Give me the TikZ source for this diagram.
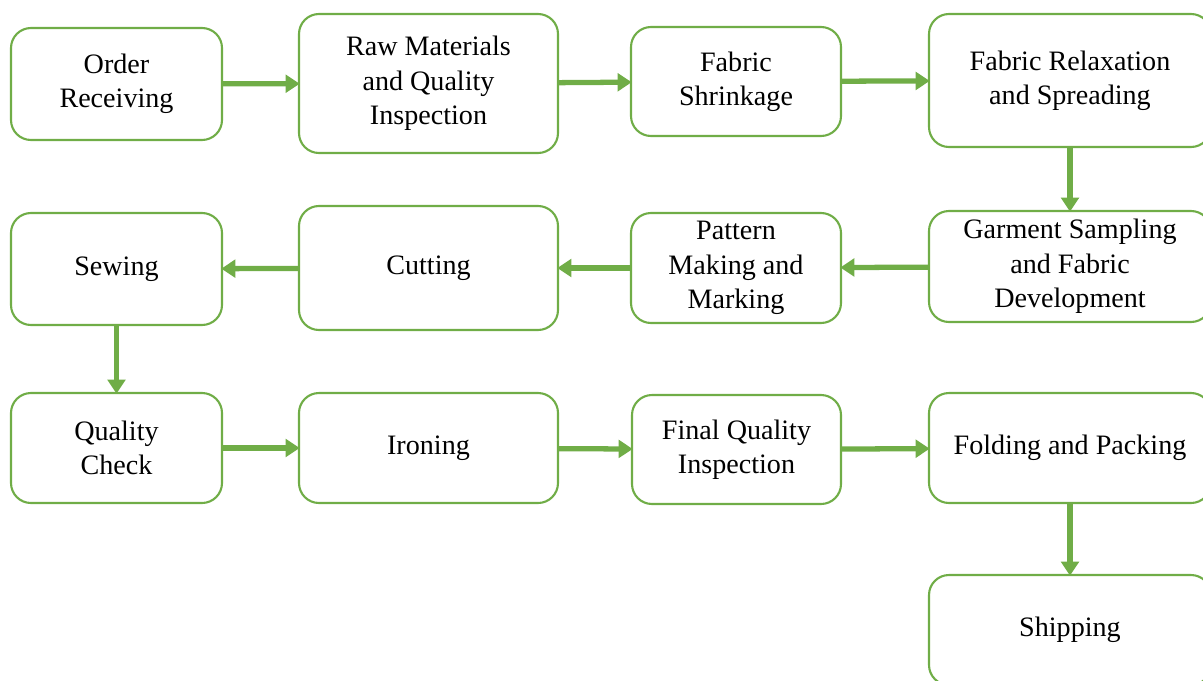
\documentclass[tikz,border=0pt]{standalone}
\usepackage{fontspec}
\setmainfont{Liberation Serif}
\usetikzlibrary{arrows.meta}
\definecolor{leaf}{RGB}{112,173,71}
\tikzstyle{stage}=[draw=leaf, line width=1.2pt, rounded corners=0.4cm, fill=white, align=center, font=\fontsize{16}{19.6}\selectfont, inner sep=2pt]
\tikzstyle{flow}=[draw=leaf, line width=3pt, -{Triangle[length=8pt, width=10pt]}, shorten >=-1pt]

\begin{document}
\begin{tikzpicture}[x=0.02cm, y=-0.02cm]
    \useasboundingbox (0,0) rectangle (1203,680);
    % first row
    \node[stage, minimum width=211*0.02cm, minimum height=112*0.02cm] (order) at (116.5,84) {Order\\Receiving};
    \node[stage, minimum width=259*0.02cm, minimum height=139*0.02cm] (raw) at (428.5,83.5) {Raw Materials\\and Quality\\Inspection};
    \node[stage, minimum width=210*0.02cm, minimum height=109*0.02cm] (shrink) at (736,81.5) {Fabric\\Shrinkage};
    \node[stage, minimum width=282*0.02cm, minimum height=133*0.02cm] (relax) at (1070,80.5) {Fabric Relaxation\\and Spreading};
    % second row
    \node[stage, minimum width=282*0.02cm, minimum height=111*0.02cm] (sample) at (1070,266.5) {Garment Sampling\\and Fabric\\Development};
    \node[stage, minimum width=210*0.02cm, minimum height=110*0.02cm] (pattern) at (736,268) {Pattern\\Making and\\Marking};
    \node[stage, minimum width=259*0.02cm, minimum height=124*0.02cm] (cut) at (428.5,268) {Cutting};
    \node[stage, minimum width=211*0.02cm, minimum height=112*0.02cm] (sew) at (116.5,269) {Sewing};
    % third row
    \node[stage, minimum width=211*0.02cm, minimum height=110*0.02cm] (check) at (116.5,448) {Quality\\Check};
    \node[stage, minimum width=259*0.02cm, minimum height=110*0.02cm] (iron) at (428.5,448) {Ironing};
    \node[stage, minimum width=209*0.02cm, minimum height=109*0.02cm] (final) at (736.5,449.5) {Final Quality\\Inspection};
    \node[stage, minimum width=282*0.02cm, minimum height=110*0.02cm] (pack) at (1070,448) {Folding and Packing};
    % last
    \node[stage, minimum width=282*0.02cm, minimum height=110*0.02cm] (ship) at (1070,630) {Shipping};
    \draw[flow] (order) -- (raw);
    \draw[flow] (raw) -- (shrink);
    \draw[flow] (shrink) -- (relax);
    \draw[flow] (relax) -- (sample);
    \draw[flow] (sample) -- (pattern);
    \draw[flow] (pattern) -- (cut);
    \draw[flow] (cut) -- (sew);
    \draw[flow] (sew) -- (check);
    \draw[flow] (check) -- (iron);
    \draw[flow] (iron) -- (final);
    \draw[flow] (final) -- (pack);
    \draw[flow] (pack) -- (ship);
\end{tikzpicture}
\end{document}
